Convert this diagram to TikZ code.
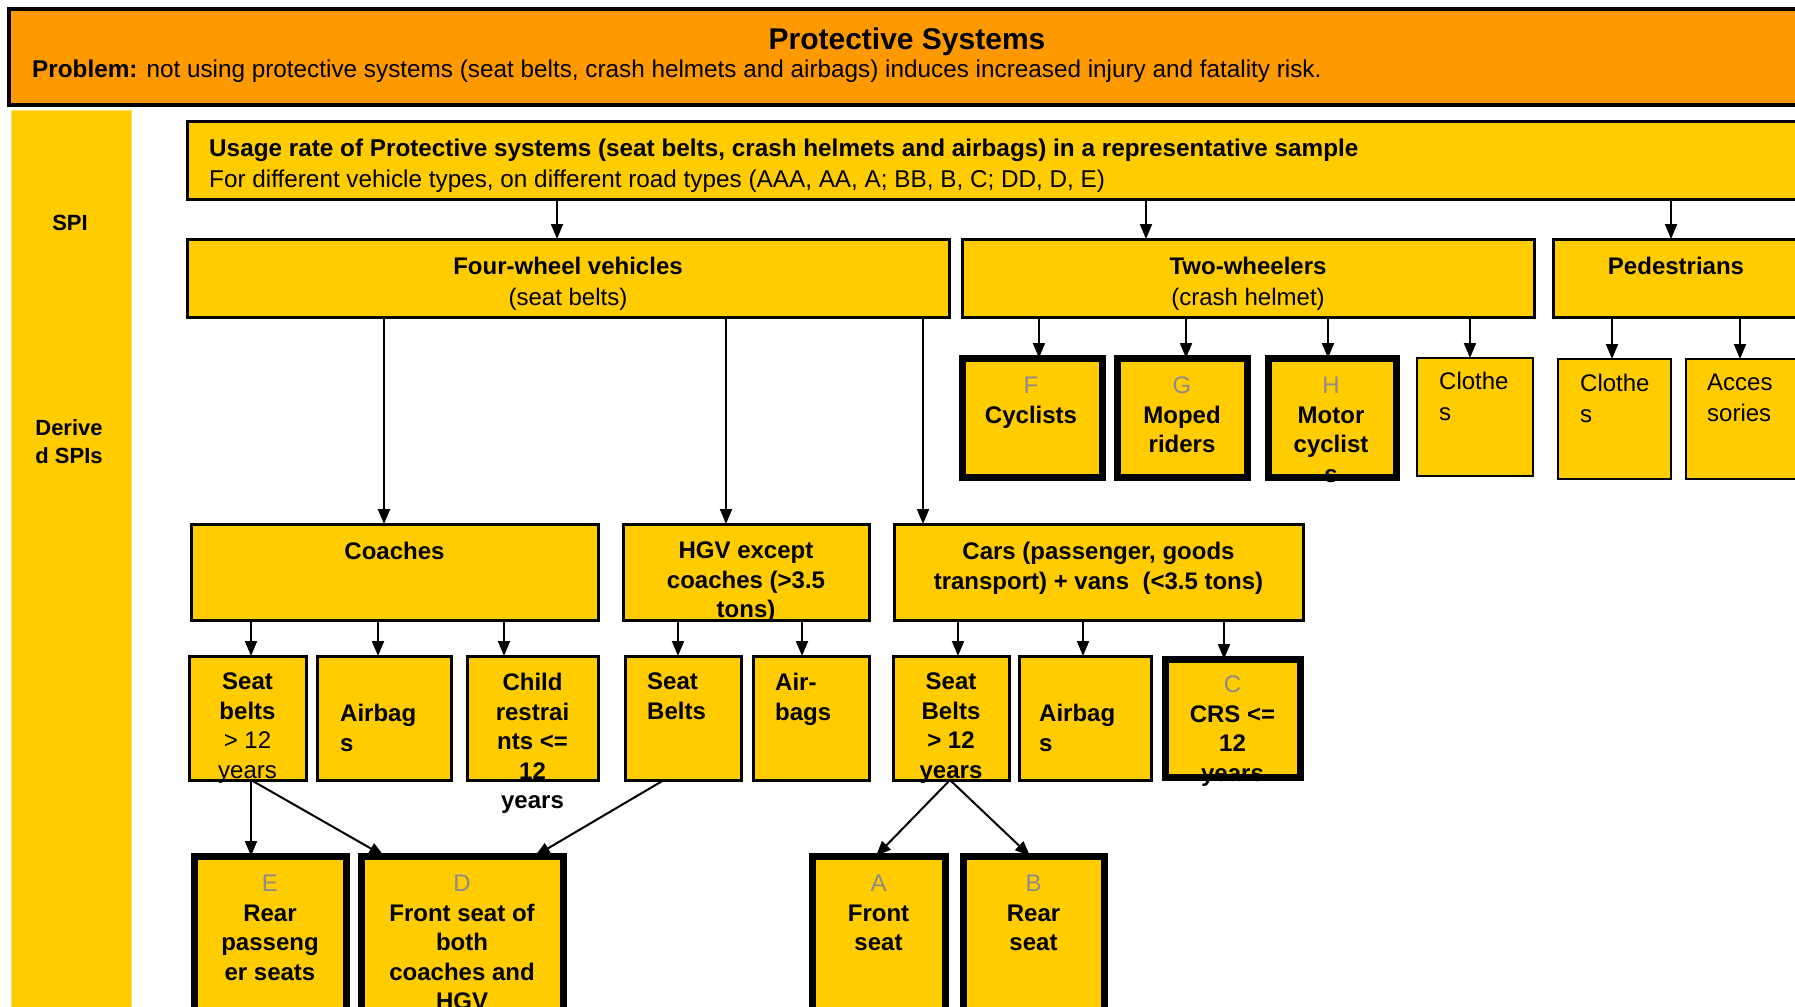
\documentclass[tikz,border=0pt]{standalone}
\usepackage{fontspec}
\setmainfont{Liberation Sans}
\usetikzlibrary{arrows.meta}
\definecolor{orng}{HTML}{FF9900}
\definecolor{yel}{HTML}{FFCC00}
\definecolor{lgray}{HTML}{8C8C8C}
\newcommand\bx[6]{\node[#1,anchor=north west,minimum width=#5pt-#3pt,minimum height=#6pt-#4pt] (#2) at (#3,#4) {};}
\newcommand\lt[1]{\textcolor{lgray}{\mdseries #1}}
\begin{document}
\begin{tikzpicture}[x=1pt,y=-1pt,
  box/.style={draw=black,line width=3pt,fill=yel,inner sep=0pt,outer sep=0pt},
  thickbox/.style={box,line width=7pt},
  thinbox/.style={box,line width=2pt},
  bt/.style={font=\fontsize{24}{29.5}\selectfont\bfseries,align=center,inner sep=0pt,anchor=north},
  rt/.style={font=\fontsize{24}{31}\selectfont,align=left,inner sep=0pt,anchor=north west},
  arr/.style={-{Triangle[length=15pt,width=12pt]},line width=2pt}]
\useasboundingbox (0,0) rectangle (1795,1006);
\clip (0,0) rectangle (1795,1006);
\fill[white] (0,0) rectangle (1795,1006);
% header
\bx{box,fill=orng,line width=4pt}{hdr}{9}{9}{1815}{105}
\node[font=\fontsize{30}{33}\selectfont\bfseries,inner sep=0pt] (title) at (907,42) {Protective Systems};
\node[font=\fontsize{24.3}{28}\selectfont,inner sep=0pt,anchor=west] (prob) at (32,71) {\textbf{Problem:} not using protective systems (seat belts, crash helmets and airbags) induces increased injury and fatality risk.};
% left column
\bx{fill=yel,draw=yel!60!white,line width=1pt,inner sep=0pt,outer sep=0pt}{lcol}{11}{111}{131}{1015}
\node[font=\fontsize{22}{27}\selectfont\bfseries,inner sep=0pt] (spi) at (70,223) {SPI};
\node[font=\fontsize{22}{28}\selectfont\bfseries,align=center,inner sep=0pt] (dspi) at (69,442) {Derive\\d SPIs};
% level 1
\bx{box}{top}{187}{122}{1815}{199}
\node[rt,font=\fontsize{24.3}{31}\selectfont] (topt) at (209,139) {\textbf{Usage rate of Protective systems (seat belts, crash helmets and airbags) in a representative sample}\\For different vehicle types, on different road types (AAA, AA, A; BB, B, C; DD, D, E)};
% level 2
\bx{box}{four}{187}{239}{949}{317}
\bx{box}{two}{962}{239}{1534}{317}
\bx{box}{ped}{1553}{239}{1815}{317}
\node[bt,font=\fontsize{24}{31}\selectfont\bfseries] (fourt) at (568,257) {Four-wheel vehicles\\\mdseries(seat belts)};
\node[bt,font=\fontsize{24}{31}\selectfont\bfseries] (twot) at (1248,257) {Two-wheelers\\\mdseries(crash helmet)};
\node[bt] (pedt) at (1676,257) {Pedestrians};
% two-wheeler / pedestrian children
\bx{thickbox}{cyc}{962}{358}{1102}{477}
\bx{thickbox}{mop}{1117}{358}{1247}{477}
\bx{thickbox}{mot}{1268}{358}{1396}{477}
\bx{thinbox}{clo1}{1417}{358}{1533}{476}
\bx{thinbox}{clo2}{1558}{359}{1671}{479}
\bx{thinbox}{acc}{1686}{359}{1815}{479}
\node[bt] (cyct) at (1031,377) {\lt{F}\\Cyclists};
\node[bt] (mopt) at (1182,377) {\lt{G}\\Moped\\riders};
\node[bt] (mott) at (1331,377) {\lt{H}\\Motor\\cyclist\\s};
\node[rt] (clo1t) at (1439,372) {Clothe\\s};
\node[rt] (clo2t) at (1580,374) {Clothe\\s};
\node[rt] (acct) at (1707,374) {Acces\\sories};
% level 3
\bx{box}{coach}{191}{524}{598}{620}
\bx{box}{hgv}{623}{524}{869}{620}
\bx{box}{cars}{894}{524}{1303}{620}
\node[bt] (coacht) at (394.5,542) {Coaches};
\node[bt] (hgvt) at (746,542) {HGV except\\coaches (>3.5\\tons)};
\node[bt,font=\fontsize{24}{30}\selectfont\bfseries] (carst) at (1098.5,542) {Cars (passenger, goods\\transport) + vans \ (<3.5 tons)};
% level 4
\bx{box}{sb1}{189}{656}{306}{780}
\bx{box}{ab1}{317}{656}{451}{780}
\bx{box}{cr1}{467}{656}{598}{780}
\bx{box}{sb2}{625}{656}{741}{780}
\bx{box}{ab2}{753}{656}{869}{780}
\bx{box}{sb3}{893}{656}{1009}{780}
\bx{box}{ab3}{1019}{656}{1151}{780}
\bx{thickbox}{crs}{1165}{659}{1300}{777}
\node[bt] (sb1t) at (247.5,673) {Seat\\belts\\\mdseries > 12\\\mdseries years};
\node[rt,font=\fontsize{24}{29.5}\selectfont\bfseries] (ab1t) at (340,704) {Airbag\\s};
\node[bt] (cr1t) at (532.5,673) {Child\\restrai\\nts <=\\12\\years};
\node[rt,font=\fontsize{24}{29.5}\selectfont\bfseries] (sb2t) at (647,673) {Seat\\Belts};
\node[rt,font=\fontsize{24}{29.5}\selectfont\bfseries] (ab2t) at (775,673) {Air-\\bags};
\node[bt] (sb3t) at (951,673) {Seat\\Belts\\> 12\\years};
\node[rt,font=\fontsize{24}{29.5}\selectfont\bfseries] (ab3t) at (1039,704) {Airbag\\s};
\node[bt] (crst) at (1232.5,676) {\lt{C}\\CRS <=\\12\\years};
% level 5
\bx{thickbox}{E}{194}{856}{346}{1030}
\bx{thickbox}{D}{361}{856}{563}{1030}
\bx{thickbox}{A}{812}{856}{945}{1030}
\bx{thickbox}{B}{963}{856}{1104}{1030}
\node[bt] (Et) at (270,875) {\lt{E}\\Rear\\passeng\\er seats};
\node[bt] (Dt) at (462,875) {\lt{D}\\Front seat of\\both\\coaches and\\HGV};
\node[bt] (At) at (878.5,875) {\lt{A}\\Front\\seat};
\node[bt] (Bt) at (1033.5,875) {\lt{B}\\Rear\\seat};
% borders drawn over overflowing text
\foreach \n/\w in {mot/7,crs/7,sb1/3,cr1/3,sb3/3,hgv/3}
  \draw[line width=\w pt] (\n.north west) rectangle (\n.south east);
% connectors
\draw[arr] (557,0 |- top.south) -- (557,0 |- four.north);
\draw[arr] (1146,0 |- top.south) -- (1146,0 |- two.north);
\draw[arr] (1671,0 |- top.south) -- (1671,0 |- ped.north);
\draw[arr] (384,0 |- four.south) -- (384,0 |- coach.north);
\draw[arr] (726,0 |- four.south) -- (726,0 |- hgv.north);
\draw[arr] (923,0 |- four.south) -- (923,0 |- cars.north);
\draw[arr] (1039,0 |- two.south) -- (1039,0 |- cyc.north);
\draw[arr] (1186,0 |- two.south) -- (1186,0 |- mop.north);
\draw[arr] (1328,0 |- two.south) -- (1328,0 |- mot.north);
\draw[arr] (1470,0 |- two.south) -- (1470,0 |- clo1.north);
\draw[arr] (1612,0 |- ped.south) -- (1612,0 |- clo2.north);
\draw[arr] (1740,0 |- ped.south) -- (1740,0 |- acc.north);
\draw[arr] (251,0 |- coach.south) -- (251,0 |- sb1.north);
\draw[arr] (378,0 |- coach.south) -- (378,0 |- ab1.north);
\draw[arr] (504,0 |- coach.south) -- (504,0 |- cr1.north);
\draw[arr] (678,0 |- hgv.south) -- (678,0 |- sb2.north);
\draw[arr] (802,0 |- hgv.south) -- (802,0 |- ab2.north);
\draw[arr] (958,0 |- cars.south) -- (958,0 |- sb3.north);
\draw[arr] (1083,0 |- cars.south) -- (1083,0 |- ab3.north);
\draw[arr] (1224,0 |- cars.south) -- (1224,0 |- crs.north);
\draw[arr] (251,0 |- sb1.south) -- (251,0 |- E.north);
\draw[arr] (251,0 |- sb1.south) -- (384,0 |- D.north);
\draw[arr] (664,0 |- sb2.south) -- (535,0 |- D.north);
\draw[arr] (950,0 |- sb3.south) -- (876,0 |- A.north);
\draw[arr] (950,0 |- sb3.south) -- (1030,0 |- B.north);
\end{tikzpicture}
\end{document}
